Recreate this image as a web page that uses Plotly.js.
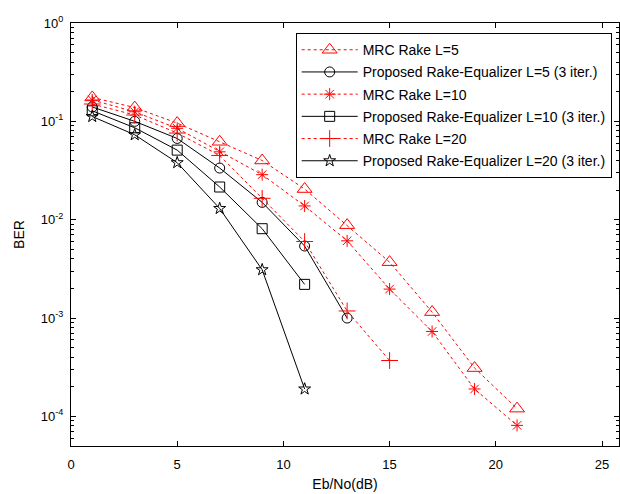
<!DOCTYPE html>
<html>
<head>
<meta charset="utf-8">
<script src="https://cdn.plot.ly/plotly-3.0.1.min.js"></script>
<style>html,body{margin:0;padding:0;background:#fff;}#chart{width:620px;height:494px;}</style>
</head>
<body>
<div id="chart"></div>
<script>
const snrMRC5 = [1, 3, 5, 7, 9, 11, 13, 15, 17, 19, 21];
const berMRC5 = [0.175, 0.138, 0.096, 0.062, 0.040, 0.0205, 0.0088, 0.0037, 0.00115, 0.00031, 0.00012];
const snrProp5 = [1, 3, 5, 7, 9, 11, 13];
const berProp5 = [0.14, 0.10, 0.067, 0.0335, 0.015, 0.0054, 0.0010];
const snrMRC10 = [1, 3, 5, 7, 9, 11, 13, 15, 17, 19, 21];
const berMRC10 = [0.165, 0.125, 0.085, 0.049, 0.0287, 0.0138, 0.0061, 0.00197, 0.00073, 0.00019, 0.000081];
const snrProp10 = [1, 3, 5, 7, 9, 11];
const berProp10 = [0.128, 0.086, 0.051, 0.0215, 0.0081, 0.0022];
const snrMRC20 = [1, 3, 5, 7, 9, 11, 13, 15];
const berMRC20 = [0.15, 0.116, 0.076, 0.045, 0.0165, 0.006, 0.00118, 0.00037];
const snrProp20 = [1, 3, 5, 7, 9, 11];
const berProp20 = [0.112, 0.073, 0.038, 0.013, 0.0031, 0.00019];

const names = [
  'MRC Rake L=5',
  'Proposed Rake-Equalizer L=5 (3 iter.)',
  'MRC Rake L=10',
  'Proposed Rake-Equalizer L=10 (3 iter.)',
  'MRC Rake L=20',
  'Proposed Rake-Equalizer L=20 (3 iter.)'
];
const yTickVals = [1e-4, 1e-3, 1e-2, 1e-1, 1];
const yTickText = ['10<sup>-4</sup>', '10<sup>-3</sup>', '10<sup>-2</sup>', '10<sup>-1</sup>', '10<sup>0</sup>'];
const xTickVals = [0, 5, 10, 15, 20, 25];

const minorVals = [];
for (let e = -5; e < 0; e++) for (let m = 2; m <= 9; m++) minorVals.push(m * Math.pow(10, e));

const RED = '#ff0000', BLK = '#000000';
function mrc(x, y, name, sym, size, g) {
  return {x, y, name, type: 'scatter', mode: 'lines+markers', legendgroup: g,
    line: {color: RED, width: 1, dash: '3px,3px'},
    marker: {symbol: sym, size: size, color: RED, line: {color: RED, width: 1}}};
}
function prop(x, y, name, sym, size, g) {
  return {x, y, name, type: 'scatter', mode: 'lines+markers', legendgroup: g,
    line: {color: BLK, width: 1},
    marker: {symbol: sym, size: size, color: BLK, line: {color: BLK, width: 1}}};
}
const data = [
  mrc(snrMRC5, berMRC5, names[0], 'triangle-up-open', 13, 'a'),
  prop(snrProp5, berProp5, names[1], 'circle-open', 10, 'b'),
  mrc(snrMRC10, berMRC10, names[2], 'asterisk-open', 10, 'c'),
  prop(snrProp10, berProp10, names[3], 'square-open', 10, 'd'),
  mrc(snrMRC20, berMRC20, names[4], 'cross-thin-open', 12, 'e'),
  prop(snrProp20, berProp20, names[5], 'star-open', 9, 'f')
];
const fontFam = '"Liberation Sans", Arial, Helvetica, sans-serif';
const layout = {
  width: 620, height: 494,
  margin: {l: 71, r: 1, t: 23, b: 48},
  paper_bgcolor: '#fff', plot_bgcolor: '#fff',
  font: {family: fontFam, size: 13, color: '#000'},
  showlegend: true,
  legend: {x: 0.41, y: 0.976, xanchor: 'left', yanchor: 'top',
    bgcolor: '#fff', bordercolor: '#000', borderwidth: 1,
    font: {family: fontFam, size: 14, color: '#000'},
    traceorder: 'grouped', tracegroupgap: 1, itemwidth: 56},
  xaxis: {range: [0, 25.8], tickvals: xTickVals, ticks: 'inside', ticklen: 5,
    tickcolor: '#000', showline: true, linecolor: '#000', linewidth: 1, mirror: 'ticks',
    showgrid: false, zeroline: false, tickfont: {size: 13}, ticklabelstandoff: 6,
    title: {text: 'Eb/No(dB)', font: {size: 14}, standoff: 8}},
  yaxis: {type: 'log', range: [Math.log10(5e-5), 0], tickvals: yTickVals, ticktext: yTickText,
    ticks: 'inside', ticklen: 5, tickcolor: '#000', showline: true, linecolor: '#000',
    linewidth: 1, mirror: 'ticks', showgrid: false, zeroline: false, tickfont: {size: 13},
    ticklabelstandoff: 4,
    minor: {tickvals: minorVals, ticks: 'inside', ticklen: 3, tickcolor: '#000', showgrid: false},
    title: {text: 'BER', font: {size: 14}, standoff: 12}}
};
Plotly.newPlot('chart', data, layout, {displayModeBar: false, staticPlot: true});
</script>
</body>
</html>
